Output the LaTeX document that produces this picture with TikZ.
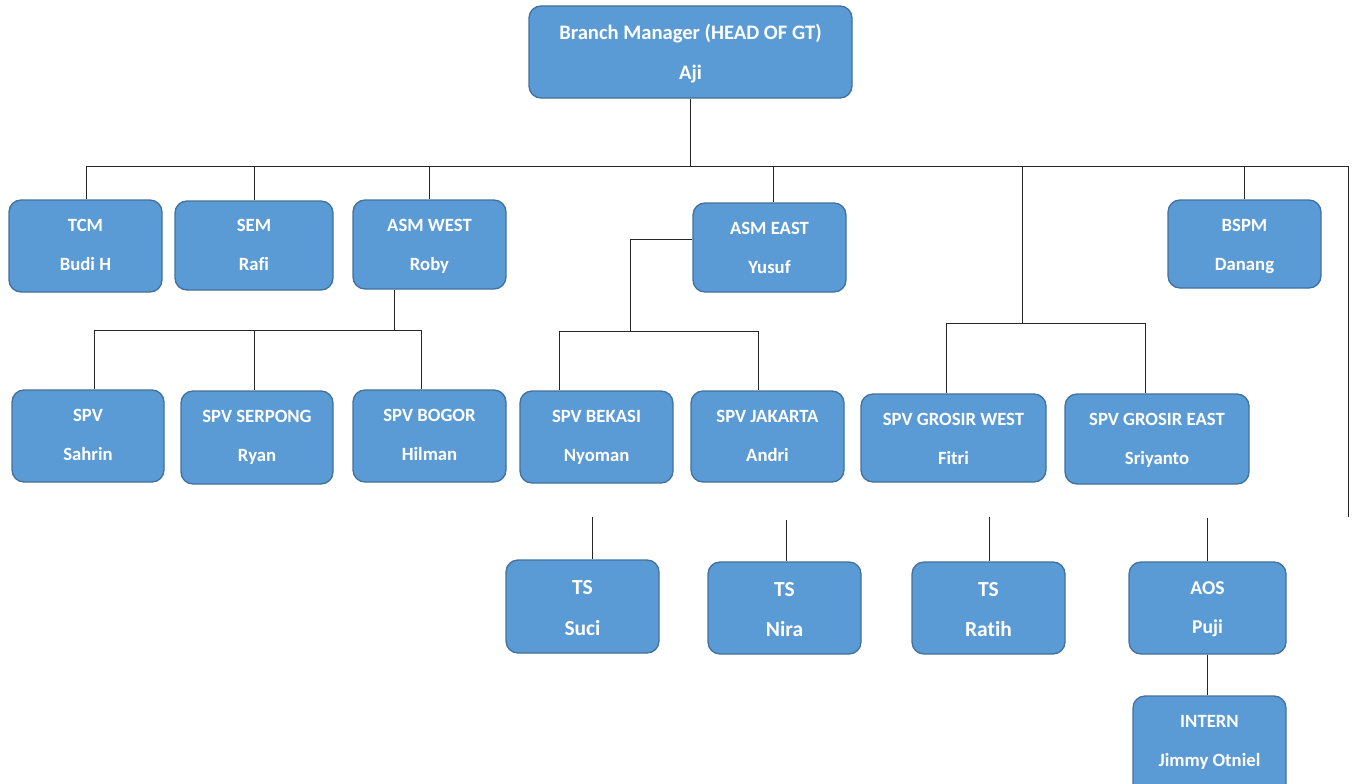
\documentclass[tikz,border=0pt]{standalone}
\usepackage{fontspec}
\setmainfont[Ligatures=NoCommon]{Carlito}
\definecolor{boxfill}{HTML}{5B9BD5}
\definecolor{boxline}{HTML}{41719C}
\def\fs{18.7}
\newcommand\obox[9]{%
  \node[box, minimum width=#4pt-#2pt, minimum height=#5pt-#3pt] (#1) at ({(#2+#4)/2},{(#3+#5)/2}) {};
  \node[lbl] (#1-a) at ({(#2+#4)/2},{#6+0.32*\fs+1}) {#8};
  \node[lbl] (#1-b) at ({(#2+#4)/2},{#7+0.32*\fs+1}) {#9};
}
\begin{document}
\begin{tikzpicture}[x=1pt,y=-1pt,
  box/.style={draw=boxline, fill=boxfill, line width=1.3pt, rounded corners=12pt, inner sep=0pt},
  lbl/.style={text=white, font=\bfseries\fontsize{\fs}{\fs}\selectfont, inner sep=0pt, anchor=base},
  wire/.style={line width=1pt, draw=black!85}]
\useasboundingbox (0,0) rectangle (1352,784);
% boxes
\def\fs{20.6}
\obox{bm}{529}{6}{852}{98}{32}{72}{Branch Manager (HEAD OF GT)}{Aji}
\def\fs{18.7}
\obox{tcm}{9}{200}{162}{292}{225}{264}{TCM}{Budi H}
\obox{sem}{175}{201}{333}{290}{225}{264}{SEM}{Rafi}
\obox{asmw}{353}{200}{506}{289}{225}{264}{ASM WEST}{Roby}
\obox{asme}{693}{203}{846}{292}{228}{267}{ASM EAST}{Yusuf}
\obox{bspm}{1168}{200}{1321}{288}{225}{264}{BSPM}{Danang}
\obox{spv}{12}{390}{164}{482}{415}{454}{SPV}{Sahrin}
\obox{serp}{181}{391}{333}{484}{416}{455}{SPV SERPONG}{Ryan}
\obox{bogor}{353}{390}{506}{482}{415}{454}{SPV BOGOR}{Hilman}
\obox{bekasi}{520}{391}{673}{483}{416}{455}{SPV BEKASI}{Nyoman}
\obox{jkt}{691}{391}{844}{482}{416}{455}{SPV JAKARTA}{Andri}
\obox{gw}{861}{394}{1046}{482}{419}{458}{SPV GROSIR WEST}{Fitri}
\obox{ge}{1065}{394}{1249}{484}{419}{458}{SPV GROSIR EAST}{Sriyanto}
\obox{intern}{1133}{696}{1286}{800}{721}{760}{INTERN}{Jimmy Otniel}
\def\fs{21.5}
\obox{suci}{506}{560}{659}{653}{587}{628}{TS}{Suci}
\obox{nira}{708}{562}{861}{654}{589}{629}{TS}{Nira}
\obox{ratih}{912}{562}{1065}{654}{589}{629}{TS}{Ratih}
\def\fs{19.6}
\obox{aos}{1129}{562}{1286}{654}{587}{626}{AOS}{Puji}
% junction coordinates
\coordinate (hL) at (86,166);
\coordinate (hR) at (1348,166);
\coordinate (rEnd) at (1348,517);
\coordinate (awj) at (394,330);
\coordinate (aw1) at (94,330);
\coordinate (aw2) at (254,330);
\coordinate (aw3) at (421,330);
\coordinate (aej) at (630,239);
\coordinate (ae1) at (559,331);
\coordinate (ae2) at (758,331);
\coordinate (gj) at (1022,323);
\coordinate (g1) at (946,323);
\coordinate (g2) at (1145,323);
\coordinate (s1) at (592,517);
\coordinate (s2) at (786,520);
\coordinate (s3) at (989,517);
\coordinate (s4) at (1207,518);
% connectors
\draw[wire] (bm.south) -- (bm.south |- hL);
\draw[wire] (hL) -- (hR) -- (rEnd);
\draw[wire] (hL) -- (hL |- tcm.north);
\draw[wire] (sem.north |- hL) -- (sem.north);
\draw[wire] (asmw.north |- hL) -- (asmw.north);
\draw[wire] ([xshift=4pt]asme.north |- hL) -- ([xshift=4pt]asme.north);
\draw[wire] (bspm.north |- hL) -- (bspm.north);
\draw[wire] (gj |- hL) -- (gj);
% ASM WEST
\draw[wire] (awj |- asmw.south) -- (awj);
\draw[wire] (aw1) -- (aw3);
\draw[wire] (aw1) -- (aw1 |- spv.north);
\draw[wire] (aw2) -- (aw2 |- serp.north);
\draw[wire] (aw3) -- (aw3 |- bogor.north);
% ASM EAST
\draw[wire] (asme.west |- aej) -- (aej) -- (aej |- ae1);
\draw[wire] (ae1) -- (ae2);
\draw[wire] (ae1) -- (ae1 |- bekasi.north);
\draw[wire] (ae2) -- (ae2 |- jkt.north);
% GROSIR
\draw[wire] (g1) -- (g2);
\draw[wire] (g1) -- (g1 |- gw.north);
\draw[wire] (g2) -- (g2 |- ge.north);
% TS / AOS stubs
\draw[wire] (s1) -- (s1 |- suci.north);
\draw[wire] (s2) -- (s2 |- nira.north);
\draw[wire] (s3) -- (s3 |- ratih.north);
\draw[wire] (s4) -- (s4 |- aos.north);
\draw[wire] (s4 |- aos.south) -- (s4 |- intern.north);
\end{tikzpicture}
\end{document}
